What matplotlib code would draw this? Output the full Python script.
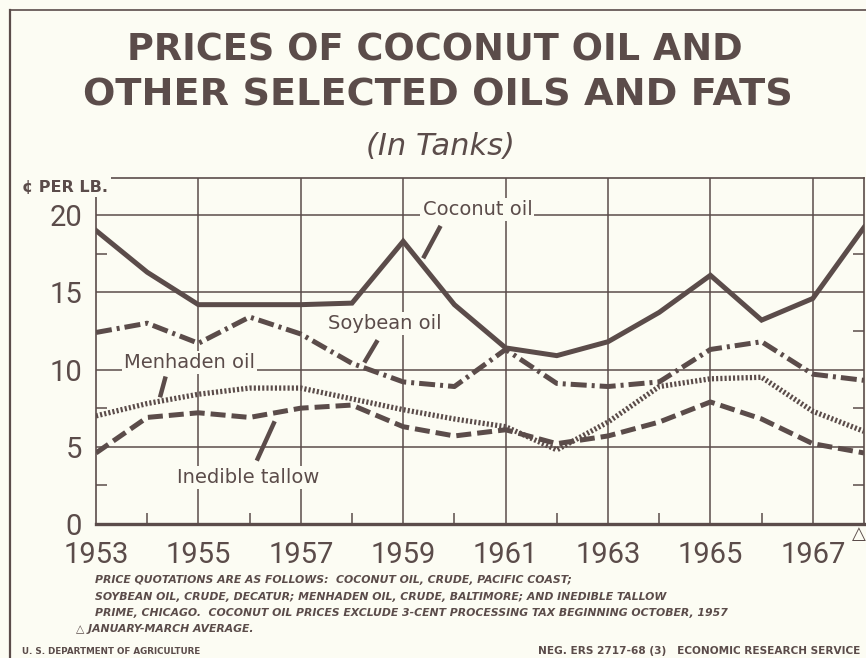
import matplotlib
matplotlib.use("Agg")
import matplotlib.pyplot as plt
from matplotlib.lines import Line2D

# data (cents per lb.)
years = list(range(1953, 1969))
coconut = [19.0, 16.3, 14.2, 14.2, 14.2, 14.3, 18.3, 14.2, 11.4, 10.9, 11.8, 13.7, 16.1, 13.2, 14.6, 19.2]
soybean = [12.4, 13.0, 11.7, 13.4, 12.3, 10.4, 9.2, 8.9, 11.3, 9.1, 8.9, 9.2, 11.3, 11.8, 9.7, 9.3]
menhaden = [7.0, 7.8, 8.4, 8.8, 8.8, 8.1, 7.4, 6.8, 6.3, 4.8, 6.6, 8.9, 9.4, 9.5, 7.3, 6.0]
tallow = [4.6, 6.9, 7.2, 6.9, 7.5, 7.7, 6.3, 5.7, 6.1, 5.2, 5.7, 6.6, 7.9, 6.8, 5.2, 4.6]

year_labels = ["1953", "1955", "1957", "1959", "1961", "1963", "1965", "1967"]
y_ticks = [0, 5, 10, 15, 20]

ink = "#5b4c4a"
bg = "#fcfcf3"

plt.rcParams["font.family"] = ["DejaVu Sans"]

fig = plt.figure(figsize=(8.66, 6.58), dpi=100, facecolor=bg)
ax = fig.add_axes([96 / 866, 1 - 524 / 658, 768 / 866, 346 / 658])
ax.set_facecolor(bg)

ax.set_xlim(1953, 1968)
ax.set_ylim(0, 22.4)

# grid
for v in [5, 10, 15, 20]:
    ax.axhline(v, color=ink, lw=1.1, zorder=1)
for yr in range(1955, 1968, 2):
    ax.axvline(yr, color=ink, lw=1.1, zorder=1)

# series
ax.plot(years, coconut, color=ink, lw=3.6, solid_joinstyle="miter", zorder=4)
ax.plot(years, soybean, color=ink, lw=3.6, dashes=(3.2, 1.0, 0.6, 1.0), dash_capstyle="butt", zorder=4)
ax.plot(years, menhaden, color=ink, lw=3.8, dashes=(0.4, 0.4), dash_capstyle="butt", zorder=4)
ax.plot(years, tallow, color=ink, lw=3.6, dashes=(3.0, 1.2), dash_capstyle="butt", zorder=4)

# spines and ticks
for s in ["left", "right", "top"]:
    ax.spines[s].set_color(ink)
    ax.spines[s].set_linewidth(1.2)
ax.spines["bottom"].set_color(ink)
ax.spines["bottom"].set_linewidth(2.4)

ax.set_xticks([int(y) for y in year_labels])
ax.set_xticklabels(year_labels)
ax.set_yticks(y_ticks)
ax.set_yticklabels([str(v) for v in y_ticks])
ax.set_xticks(range(1954, 1968, 2), minor=True)
ax.set_yticks([2.5, 7.5, 12.5, 17.5], minor=True)
ax.tick_params(which="major", length=0, colors=ink, labelcolor=ink, labelsize=21, pad=10)
ax.tick_params(axis="x", which="major", pad=12)
ax.tick_params(which="minor", direction="in", length=8, width=1.1, color=ink,
               left=True, right=True, bottom=True)
for lab in ax.get_xticklabels() + ax.get_yticklabels():
    lab.set_family("Roboto")
    lab.set_fontweight("normal")

# series labels
lab_kw = dict(color=ink, fontsize=14, zorder=5,
              bbox=dict(facecolor=bg, edgecolor="none", pad=1.5))
ax.text(1960.45, 19.75, "Coconut oil", ha="center", va="bottom", **lab_kw)
ax.text(1958.65, 13.0, "Soybean oil", ha="center", va="center", **lab_kw)
ax.text(1954.83, 9.85, "Menhaden oil", ha="center", va="bottom", **lab_kw)
ax.text(1955.98, 3.0, "Inedible tallow", ha="center", va="center", **lab_kw)

# leader lines
for (x0, y0), (x1, y1) in [((1959.73, 19.3), (1959.39, 17.2)),
                           ((1958.50, 11.9), (1958.24, 10.45)),
                           ((1954.36, 9.55), (1954.25, 8.2)),
                           ((1956.49, 6.65), (1956.14, 4.1))]:
    ax.add_line(Line2D([x0, x1], [y0, y1], color=ink, lw=3.2, solid_capstyle="butt", zorder=5))

# titles
fig.text(0.502, 1 - 50 / 658, "PRICES OF COCONUT OIL AND", ha="center", va="center",
         fontsize=26.5, fontweight="bold", color=ink)
fig.text(0.506, 1 - 96 / 658, "OTHER SELECTED OILS AND FATS", ha="center", va="center",
         fontsize=27.5, fontweight="bold", color=ink)
fig.text(0.509, 1 - 147 / 658, "(In Tanks)", ha="center", va="center",
         fontsize=22, style="italic", color=ink)
fig.text(22 / 866, 1 - 187 / 658, "¢ PER LB.", ha="left", va="center", fontsize=11.5,
         fontweight="bold", color=ink, zorder=6,
         bbox=dict(facecolor=bg, edgecolor="none", pad=2))

fig.text(866 / 866, 1 - 534 / 658, "△", ha="right", va="center", fontsize=13, color=ink)

# footnotes
notes = [
    "PRICE QUOTATIONS ARE AS FOLLOWS:  COCONUT OIL, CRUDE, PACIFIC COAST;",
    "SOYBEAN OIL, CRUDE, DECATUR; MENHADEN OIL, CRUDE, BALTIMORE; AND INEDIBLE TALLOW",
    "PRIME, CHICAGO.  COCONUT OIL PRICES EXCLUDE 3-CENT PROCESSING TAX BEGINNING OCTOBER, 1957",
]
for i, line in enumerate(notes):
    fig.text(95 / 866, 1 - (580 + 16.5 * i) / 658, line, ha="left", va="center",
             fontsize=7.8, fontweight="bold", style="italic", color=ink)
fig.text(76 / 866, 1 - 629 / 658, "△ JANUARY-MARCH AVERAGE.", ha="left", va="center",
         fontsize=7.8, fontweight="bold", style="italic", color=ink)
fig.text(22 / 866, 1 - 651 / 658, "U. S. DEPARTMENT OF AGRICULTURE", ha="left", va="center",
         fontsize=6.3, fontweight="bold", color=ink)
fig.text(860 / 866, 1 - 651 / 658, "NEG. ERS 2717-68 (3)   ECONOMIC RESEARCH SERVICE",
         ha="right", va="center", fontsize=7.6, fontweight="bold", color=ink)

# page frame
fig.add_artist(Line2D([10 / 866, 10 / 866], [0, 1 - 10 / 658], color=ink, lw=1.6))
fig.add_artist(Line2D([10 / 866, 1], [1 - 10 / 658, 1 - 10 / 658], color=ink, lw=1.2))

fig.savefig("out.png", dpi=100, facecolor=bg)
